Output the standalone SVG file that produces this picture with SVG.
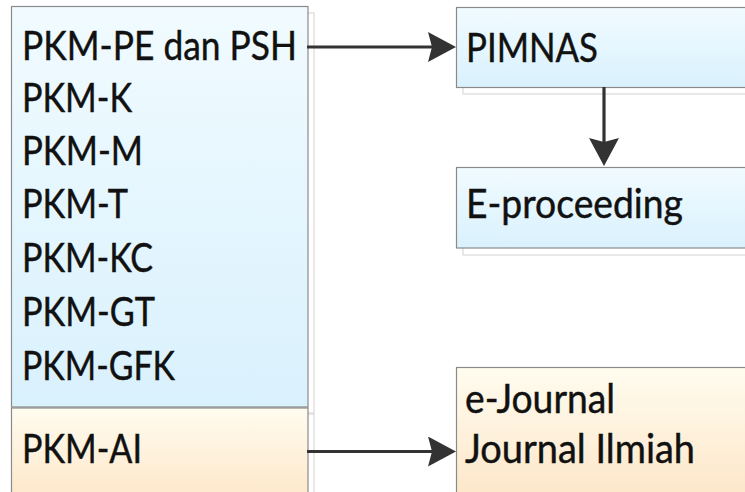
<svg xmlns="http://www.w3.org/2000/svg" width="745" height="492" viewBox="0 0 745 492">
<style>
  .t { font-family: Lato, "Noto Sans", "Liberation Sans", sans-serif; font-size: 41px; fill: #111; stroke: #111; stroke-width: 0.45; }
  .blue { fill: url(#gBlue); stroke: #8a8a8a; stroke-width: 1.2; }
  .orange { fill: url(#gOrange); stroke: #8a8a8a; stroke-width: 1.2; }
  .shadow { fill: #fff; stroke: #d9d9d9; stroke-width: 1.2; }
  .conn { stroke: #333; stroke-width: 3.2; fill: none; marker-end: url(#arrow); }
</style>
<defs>
  <linearGradient id="gBlue" x1="0" y1="0" x2="0" y2="1">
    <stop offset="0" stop-color="#f1fbff"/>
    <stop offset="1" stop-color="#d9f1fd"/>
  </linearGradient>
  <linearGradient id="gOrange" x1="0" y1="0" x2="0" y2="1">
    <stop offset="0" stop-color="#fffcef"/>
    <stop offset="1" stop-color="#fde5c6"/>
  </linearGradient>
  <marker id="arrow" viewBox="0 0 28 30" refX="4" refY="15" markerWidth="28" markerHeight="30" markerUnits="userSpaceOnUse" orient="auto">
    <path d="M0,0 L28,15 L0,30 L4,15 Z" fill="#333"/>
  </marker>
</defs>
<rect width="745" height="492" fill="#fff"/>

<g id="left-blue">
  <rect class="shadow" x="18" y="13" width="296" height="400"/>
  <rect class="blue" x="11.5" y="6.5" width="296.5" height="400.5"/>
  <text class="t" x="22" y="60" textLength="275" lengthAdjust="spacingAndGlyphs">PKM-PE dan PSH</text>
  <text class="t" x="22" y="112" textLength="110" lengthAdjust="spacingAndGlyphs">PKM-K</text>
  <text class="t" x="22" y="165" textLength="121" lengthAdjust="spacingAndGlyphs">PKM-M</text>
  <text class="t" x="22" y="218" textLength="106" lengthAdjust="spacingAndGlyphs">PKM-T</text>
  <text class="t" x="22" y="272" textLength="131" lengthAdjust="spacingAndGlyphs">PKM-KC</text>
  <text class="t" x="22" y="326" textLength="133" lengthAdjust="spacingAndGlyphs">PKM-GT</text>
  <text class="t" x="22" y="380" textLength="153" lengthAdjust="spacingAndGlyphs">PKM-GFK</text>
</g>

<g id="left-orange">
  <rect class="shadow" x="18" y="414" width="296" height="100"/>
  <rect class="orange" x="11.5" y="408" width="296.5" height="100"/>
  <text class="t" x="22" y="463" textLength="120" lengthAdjust="spacingAndGlyphs">PKM-AI</text>
</g>

<g id="pimnas">
  <rect class="shadow" x="463" y="14" width="300" height="80"/>
  <rect class="blue" x="456.5" y="7.5" width="300" height="80"/>
  <text class="t" x="466" y="62" textLength="132" lengthAdjust="spacingAndGlyphs">PIMNAS</text>
</g>

<g id="eproceeding">
  <rect class="shadow" x="463" y="174" width="300" height="81"/>
  <rect class="blue" x="456.5" y="167.5" width="300" height="80.5"/>
  <text class="t" x="466" y="218" textLength="217" lengthAdjust="spacingAndGlyphs">E-proceeding</text>
</g>

<g id="journal">
  <rect class="shadow" x="463" y="374" width="300" height="140"/>
  <rect class="orange" x="456.5" y="367.5" width="300" height="140"/>
  <text class="t" x="465" y="413" textLength="150" lengthAdjust="spacingAndGlyphs">e-Journal</text>
  <text class="t" x="465" y="463" textLength="230" lengthAdjust="spacingAndGlyphs">Journal Ilmiah</text>
</g>

<g id="connectors">
  <line class="conn" x1="307" y1="47" x2="432" y2="47"/>
  <line class="conn" x1="604" y1="87" x2="604" y2="142"/>
  <line class="conn" x1="307" y1="451.5" x2="432" y2="451.5"/>
</g>
</svg>
